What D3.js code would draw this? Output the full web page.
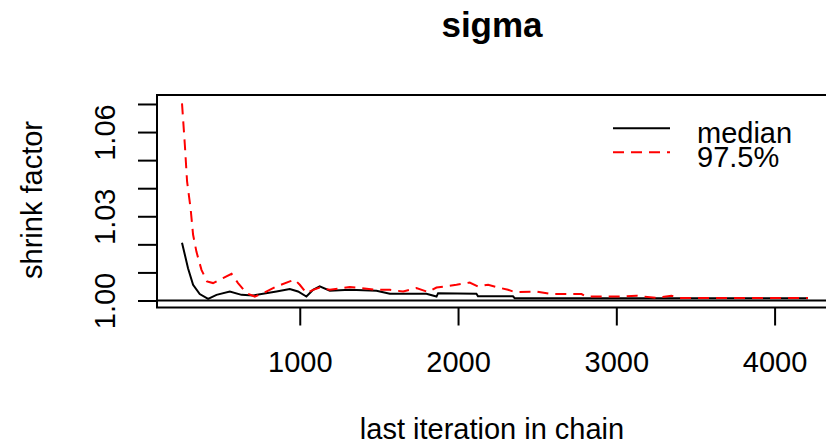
<!DOCTYPE html>
<html>
<head>
<meta charset="utf-8">
<script src="https://cdn.jsdelivr.net/npm/d3@7"></script>
<style>
  body { margin: 0; background: #fff; }
  text { font-family: "Liberation Sans", Arial, sans-serif; fill: #000; }
</style>
</head>
<body>
<script>
// values for sigma
var medianIter = [256, 274, 294, 326, 368, 421, 474, 558, 632, 705, 853, 937, 989, 1042, 1084, 1126,
  1190, 1316, 1485, 1569, 1800, 1864, 1874, 2116, 2126, 2347, 2358, 4211];
var medianVals = [1.0206, 1.0163, 1.0115, 1.0056, 1.0023, 1.0006, 1.0020, 1.0032, 1.0020, 1.0018,
  1.0032, 1.0041, 1.0032, 1.0014, 1.0038, 1.0050, 1.0035, 1.0038, 1.0035, 1.0024, 1.0024, 1.0014,
  1.0026, 1.0024, 1.0015, 1.0015, 1.0008, 1.0008];

var upperIter = [256, 274, 288, 310, 326, 347, 379, 414, 452, 515, 569, 610, 663, 716, 768, 853, 937,
  968, 1000, 1042, 1084, 1126, 1190, 1316, 1485, 1569, 1653, 1737, 1811, 1864, 1990, 2074, 2126, 2190,
  2243, 2316, 2358, 2495, 2590, 2780, 2811, 3042, 3127, 3253, 3348, 3400, 3780, 4211];
var upperVals = [1.0702, 1.0554, 1.0424, 1.0329, 1.0234, 1.0174, 1.0109, 1.0068, 1.0062, 1.0080,
  1.0095, 1.0062, 1.0026, 1.0014, 1.0026, 1.0050, 1.0068, 1.0074, 1.0056, 1.0026, 1.0038, 1.0046,
  1.0038, 1.0048, 1.0038, 1.0038, 1.0032, 1.0044, 1.0030, 1.0046, 1.0056, 1.0064, 1.0050, 1.0056,
  1.0048, 1.0038, 1.0030, 1.0032, 1.0023, 1.0023, 1.0014, 1.0014, 1.0017, 1.0009, 1.0017, 1.0009,
  1.0009, 1.0009];

var xTicks = [1000, 2000, 3000, 4000];
var yTicks = [1.00, 1.01, 1.02, 1.03, 1.04, 1.05, 1.06, 1.07];
var yLabelled = [1.00, 1.03, 1.06];
var legendLabels = ["median", "97.5%"];

var width = 826, height = 448;
var plot = { left: 157, right: 833, top: 95, bottom: 307.5 };
var mid = 492;

var x = d3.scaleLinear().domain([98, 4369]).range([plot.left, plot.right]);
var y = d3.scaleLinear().domain([0.9975, 1.0732]).range([plot.bottom, plot.top]);

var svg = d3.select("body").append("svg")
  .attr("width", width)
  .attr("height", height);

svg.append("defs").append("clipPath").attr("id", "clip")
  .append("rect")
  .attr("x", plot.left).attr("y", plot.top)
  .attr("width", plot.right - plot.left).attr("height", plot.bottom - plot.top);

// title
svg.append("text")
  .attr("x", mid).attr("y", 37)
  .attr("text-anchor", "middle")
  .style("font-size", "35px").style("font-weight", "bold")
  .text("sigma");

// reference line at 1
svg.append("line")
  .attr("x1", plot.left).attr("x2", plot.right)
  .attr("y1", y(1)).attr("y2", y(1))
  .attr("stroke", "#000").attr("stroke-width", 2);

var line = d3.line()
  .x(function (d) { return x(d[0]); })
  .y(function (d) { return y(d[1]); });

var g = svg.append("g").attr("clip-path", "url(#clip)");

g.append("path")
  .datum(medianIter.map(function (d, i) { return [d, medianVals[i]]; }))
  .attr("d", line)
  .attr("fill", "none")
  .attr("stroke", "#000")
  .attr("stroke-width", 2);

g.append("path")
  .datum(upperIter.map(function (d, i) { return [d, upperVals[i]]; }))
  .attr("d", line)
  .attr("fill", "none")
  .attr("stroke", "#ff0000")
  .attr("stroke-width", 2)
  .attr("stroke-dasharray", "11,7");

// box
svg.append("rect")
  .attr("x", plot.left).attr("y", plot.top)
  .attr("width", plot.right - plot.left).attr("height", plot.bottom - plot.top)
  .attr("fill", "none").attr("stroke", "#000").attr("stroke-width", 2);

// x axis
var xAxis = svg.append("g")
  .attr("transform", "translate(0," + plot.bottom + ")")
  .call(d3.axisBottom(x).tickValues(xTicks).tickSize(18).tickSizeOuter(0).tickFormat(d3.format("d")));
xAxis.select(".domain").remove();
xAxis.selectAll(".tick line").attr("stroke", "#000").attr("stroke-width", 2);
xAxis.selectAll(".tick text")
  .attr("y", 64).attr("dy", 0)
  .attr("font-family", null).attr("font-size", null)
  .style("font-size", "29px");

// y axis
var yAxis = svg.append("g")
  .attr("transform", "translate(" + plot.left + ",0)")
  .call(d3.axisLeft(y).tickValues(yTicks).tickSize(19).tickSizeOuter(0)
    .tickFormat(function (d) {
      return yLabelled.some(function (v) { return Math.abs(v - d) < 1e-9; }) ? d3.format(".2f")(d) : "";
    }));
yAxis.select(".domain").remove();
yAxis.selectAll(".tick line").attr("stroke", "#000").attr("stroke-width", 2);
yAxis.selectAll(".tick text")
  .attr("x", null).attr("dy", null)
  .attr("font-family", null).attr("font-size", null)
  .attr("text-anchor", "middle")
  .attr("transform", "translate(-42,0) rotate(-90)")
  .style("font-size", "29px");

// axis titles
svg.append("text")
  .attr("x", mid).attr("y", 439)
  .attr("text-anchor", "middle")
  .style("font-size", "29px")
  .text("last iteration in chain");

svg.append("text")
  .attr("transform", "translate(41.5,200) rotate(-90)")
  .attr("text-anchor", "middle")
  .style("font-size", "29px")
  .text("shrink factor");

// legend
var legend = svg.append("g");
var legendY = [128.3, 152.3];
var legendTextY = [142.7, 166.7];
legendLabels.forEach(function (lab, i) {
  legend.append("line")
    .attr("x1", 613).attr("x2", 670)
    .attr("y1", legendY[i]).attr("y2", legendY[i])
    .attr("stroke", i === 0 ? "#000" : "#ff0000")
    .attr("stroke-width", 2)
    .attr("stroke-dasharray", i === 0 ? null : "11,7");
  legend.append("text")
    .attr("x", 697).attr("y", legendTextY[i])
    .style("font-size", "29px")
    .text(lab);
});
</script>
</body>
</html>
